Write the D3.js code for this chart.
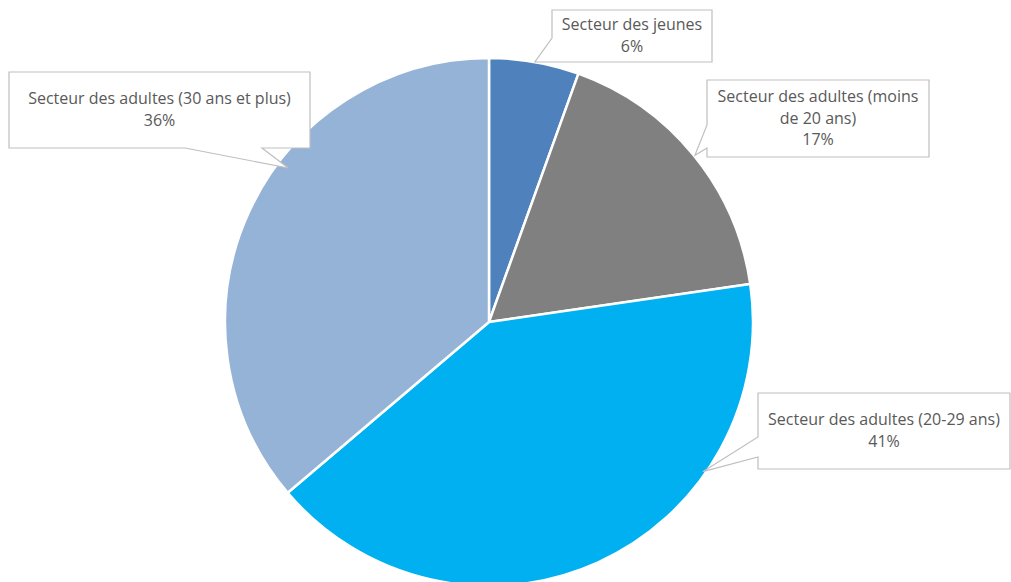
<!DOCTYPE html>
<html>
<head>
<meta charset="utf-8">
<script src="https://cdn.jsdelivr.net/npm/d3@7"></script>
<style>
  body { margin: 0; background: #fff; }
  svg { display: block; }
  .lbl { font-family: "Open Sans", Lato, sans-serif; font-size: 16px; fill: #595959; }
</style>
</head>
<body>
<div class="chart"></div>
<script>
const categories = [
  "Secteur des jeunes",
  "Secteur des adultes (moins de 20 ans)",
  "Secteur des adultes (20-29 ans)",
  "Secteur des adultes (30 ans et plus)"
];
const values = [5.5, 17.2, 41.1, 36.2];
const labelLines = [
  ["Secteur des jeunes"],
  ["Secteur des adultes (moins", "de 20 ans)"],
  ["Secteur des adultes (20-29 ans)"],
  ["Secteur des adultes (30 ans et plus)"]
];
const colors = ["#4f81bd", "#808080", "#00b0f0", "#95b3d7"];

// callout boxes: box rect, pointer tip angle (deg) / radius, wedge base points
const callouts = [
  { x: 552, y: 10, w: 160, h: 52, tipA: 10, tipR: 264, base: [[552, 38], [560, 62]] },
  { x: 707, y: 80, w: 222, h: 77, tipA: 51, tipR: 265, base: [[707, 125], [707, 148]] },
  { x: 758, y: 393, w: 252, h: 76, tipA: 125, tipR: 261, base: [[758, 437], [758, 457]] },
  { x: 9, y: 72, w: 301, h: 76, tipA: 307.5, tipR: 253, base: [[185, 148], [262, 148]] }
];

const width = 1011, height = 582;
const cx = 489, cy = 322, radius = 264;

const svg = d3.select(".chart").append("svg")
  .attr("width", width)
  .attr("height", height);

const g = svg.append("g").attr("transform", `translate(${cx},${cy})`);

const pie = d3.pie().sort(null).value(d => d);
const arcs = pie(values);
const arc = d3.arc().innerRadius(0).outerRadius(radius);

g.selectAll("path.slice")
  .data(arcs)
  .enter().append("path")
  .attr("class", "slice")
  .attr("d", arc)
  .attr("fill", (d, i) => colors[i])
  .attr("stroke", "#fff")
  .attr("stroke-width", 2.5)
  .attr("stroke-linejoin", "round");

const total = d3.sum(values);
const fmt = v => Math.round(v / total * 100) + "%";

callouts.forEach((c, i) => {
  const a = c.tipA * Math.PI / 180;
  const tip = [cx + c.tipR * Math.sin(a), cy - c.tipR * Math.cos(a)];
  const x0 = c.x, y0 = c.y, x1 = c.x + c.w, y1 = c.y + c.h;
  const [b1, b2] = c.base;
  let pts;
  if (b1[0] === x0 && b2[0] === x0) {
    // wedge on left edge
    pts = [[x0, y0], [x1, y0], [x1, y1], [x0, y1], b2, tip, b1];
  } else if (b1[0] === x0 && b2[1] === y1) {
    // wedge at bottom-left corner
    pts = [[x0, y0], [x1, y0], [x1, y1], b2, tip, b1];
  } else {
    // wedge on bottom edge
    pts = [[x0, y0], [x1, y0], [x1, y1], b2, tip, b1, [x0, y1]];
  }
  svg.append("path")
    .attr("d", "M" + pts.map(p => p.join(",")).join("L") + "Z")
    .attr("fill", "#fff")
    .attr("stroke", "#bfbfbf")
    .attr("stroke-width", 1.2);

  const lines = labelLines[i].concat([fmt(values[i])]);
  const lh = 21.5;
  const startY = c.y + c.h / 2 - (lines.length - 1) * lh / 2 + 5;
  const t = svg.append("text")
    .attr("class", "lbl")
    .attr("text-anchor", "middle");
  lines.forEach((l, k) => {
    t.append("tspan")
      .attr("x", c.x + c.w / 2)
      .attr("y", startY + k * lh)
      .text(l);
  });
});
</script>
</body>
</html>
